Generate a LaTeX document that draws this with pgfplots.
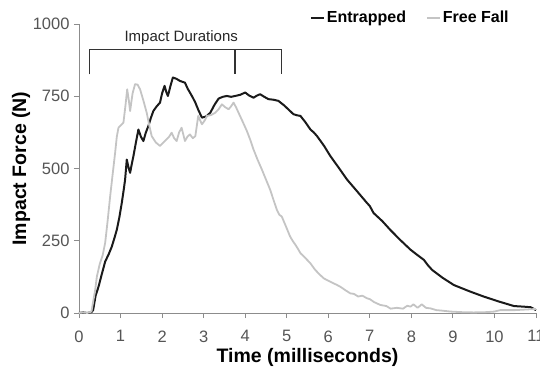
\documentclass[border=0pt]{standalone}
\usepackage{fontspec}
\setmainfont{Liberation Sans}
\usepackage{pgfplots}
\pgfplotsset{compat=1.18}
\definecolor{entr}{HTML}{1A1A1A}
\definecolor{ffall}{HTML}{C4C4C4}
\definecolor{axgray}{HTML}{8C8C8C}
\definecolor{tickgray}{HTML}{555555}
\begin{document}
\begin{tikzpicture}
\begin{axis}[
  scale only axis,
  width=457pt, height=289pt,
  xmin=0, xmax=11, ymin=0, ymax=1000,
  axis lines=left,
  axis line style={-, draw=axgray, line width=0.9pt},
  xtick={0,1,...,11},
  ytick={0,250,500,750,1000},
  tick align=outside,
  major tick length=5pt,
  tick style={draw=axgray, line width=0.9pt},
  /pgf/number format/assume math mode=true,
  ticklabel style={font=\fontsize{16.5}{19}\selectfont, text=tickgray},
  xticklabel style={yshift=-9pt},
  yticklabel style={xshift=-1pt, /pgf/number format/.cd, 1000 sep={}},
  xlabel={Time (milliseconds)},
  ylabel={Impact Force (N)},
  label style={font=\fontsize{19.5}{22}\selectfont\bfseries, text=black},
  x label style={at={([yshift=-44.5pt]axis description cs:0.5,0)}, anchor=center},
  y label style={at={([xshift=-58pt]axis description cs:0,0.5)}, anchor=center, rotate=0},
  clip=false,
  legend columns=2,
  legend style={draw=none, fill=none, at={(rel axis cs:0.725,1.021)}, anchor=center,
    font=\fontsize{16}{19}\selectfont\bfseries,
    /tikz/every even column/.append style={column sep=18pt},
    inner sep=0pt},
  legend image code/.code={\draw[#1] (0pt,0pt) -- (13pt,0pt);},
]
\addplot[color=entr, line width=2pt, line join=round] coordinates {
(0,0) (0.1,2) (0.2,0) (0.3,3) (0.34,10) (0.40,60) (0.47,91) (0.55,135) (0.63,178)
(0.72,205) (0.79,230) (0.85,258) (0.91,288) (0.97,330) (1.03,381) (1.08,430)
(1.11,462) (1.15,531) (1.19,505) (1.23,485) (1.27,515) (1.31,543) (1.37,590)
(1.43,635) (1.49,610) (1.55,595) (1.61,625) (1.67,647) (1.73,675) (1.79,699)
(1.87,715) (1.95,728) (2.00,760) (2.06,786) (2.10,765) (2.14,751) (2.20,785)
(2.26,815) (2.35,810) (2.43,803) (2.55,797) (2.62,775) (2.67,763) (2.74,745)
(2.80,728) (2.88,700) (2.96,676) (3.06,680) (3.16,693) (3.26,720) (3.36,742)
(3.46,748) (3.56,751) (3.66,748) (3.76,751) (3.88,755) (4.00,763) (4.10,752)
(4.20,745) (4.28,752) (4.36,757) (4.46,748) (4.56,740) (4.68,738) (4.80,734)
(4.94,718) (5.08,699) (5.16,688) (5.25,684) (5.33,682) (5.45,660) (5.57,635)
(5.65,625) (5.73,612) (5.90,578) (6.05,543) (6.25,503) (6.45,462) (6.70,420)
(6.93,381) (7.00,370) (7.09,346) (7.30,318) (7.49,288) (7.73,253) (7.98,219)
(8.15,200) (8.30,184) (8.40,165) (8.50,149) (8.75,122) (9.02,97) (9.40,75)
(9.74,57) (10.1,40) (10.47,24) (10.7,22) (10.87,20) (10.95,14) (11.0,10)
};
\addlegendentry{Entrapped}
\addplot[color=ffall, line width=1.8pt, line join=round] coordinates {
(0,0) (0.1,2) (0.2,0) (0.3,5) (0.39,80) (0.43,126) (0.5,170) (0.57,200) (0.63,243)
(0.69,320) (0.75,404) (0.81,480) (0.87,555) (0.91,610) (0.95,641) (1.01,650)
(1.07,659) (1.12,720) (1.16,774) (1.20,735) (1.23,699) (1.29,760) (1.35,792)
(1.41,790) (1.47,774) (1.55,735) (1.63,693) (1.69,650) (1.75,612) (1.85,590)
(1.95,578) (2.03,590) (2.11,601) (2.17,610) (2.23,624) (2.29,605) (2.35,595)
(2.41,625) (2.47,641) (2.55,595) (2.61,610) (2.67,618) (2.74,605) (2.80,612)
(2.87,682) (2.92,665) (2.96,653) (3.02,665) (3.08,682) (3.18,685) (3.28,693)
(3.36,705) (3.44,722) (3.52,712) (3.60,705) (3.66,715) (3.72,728) (3.78,712)
(3.84,693) (3.94,662) (4.04,630) (4.12,600) (4.20,566) (4.30,530) (4.40,497)
(4.50,462) (4.60,427) (4.68,392) (4.76,358) (4.82,340) (4.88,334) (4.98,300)
(5.08,265) (5.15,248) (5.20,238) (5.27,222) (5.33,207) (5.45,190) (5.57,172)
(5.68,150) (5.78,135) (5.89,120) (6.05,108) (6.21,97) (6.30,90) (6.40,80)
(6.53,68) (6.62,66) (6.72,57) (6.82,60) (6.93,51) (7.0,48) (7.1,38) (7.25,28)
(7.4,24) (7.5,15) (7.65,18) (7.8,15) (7.9,25) (7.98,22) (8.05,30) (8.15,18)
(8.25,30) (8.35,18) (8.46,16) (8.6,10) (8.75,8) (8.94,5) (9.2,3) (9.5,2)
(9.8,3) (10.0,5) (10.14,10) (10.5,10) (11.0,14)
};
\addlegendentry{Free Fall}
\draw[color=black!80, line width=1.5pt]
  (axis cs:0.25,826) -- (axis cs:0.25,911) -- (axis cs:4.88,911) -- (axis cs:4.88,826);
\draw[color=black!80, line width=1.5pt] (axis cs:3.76,911) -- (axis cs:3.76,826);
\node[font=\fontsize{15}{18}\selectfont, text=black!85] at (axis cs:2.46,954) {Impact Durations};
\end{axis}
\pgfresetboundingbox
\path[use as bounding box] (-79pt,-54pt) rectangle (461pt,313pt);
\end{tikzpicture}
\end{document}
